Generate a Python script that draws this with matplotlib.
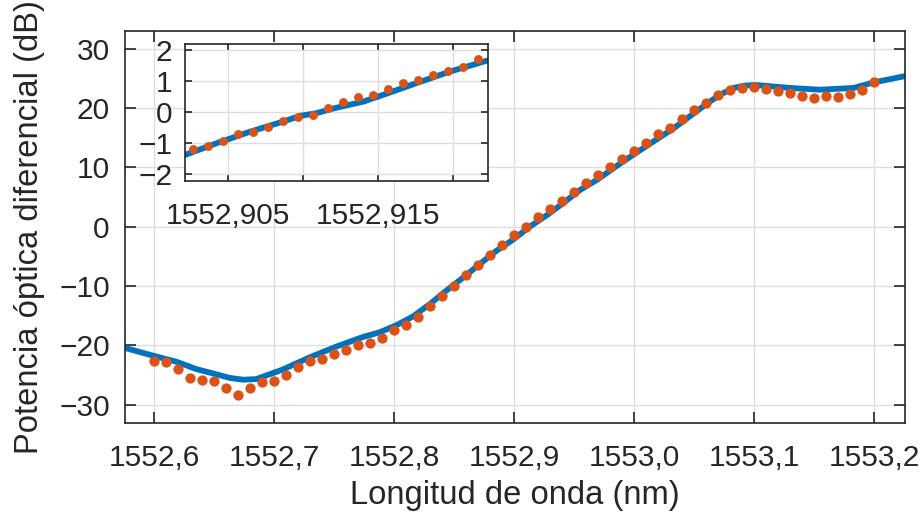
import numpy as np
import matplotlib
matplotlib.use("Agg")
from matplotlib import pyplot as plt
from matplotlib.ticker import FixedLocator, FixedFormatter

plt.rcParams['font.family'] = ['Liberation Sans', 'DejaVu Sans']
plt.rcParams['font.size'] = 21.5

azul = '#0072BD'
naranja = '#D95319'
gris = '#262626'

# curva simulada (nm, dB)
lam_sim = [1552.575, 1552.591, 1552.602, 1552.619, 1552.635, 1552.652, 1552.663,
           1552.674, 1552.685, 1552.696, 1552.707, 1552.719, 1552.730, 1552.752,
           1552.774, 1552.788, 1552.802, 1552.816, 1552.830, 1552.844, 1552.858,
           1552.872, 1552.885, 1552.899, 1552.913, 1552.927, 1552.941, 1552.955,
           1552.969, 1552.988, 1553.005, 1553.033, 1553.061, 1553.072, 1553.083,
           1553.092, 1553.101, 1553.130, 1553.155, 1553.183, 1553.199, 1553.226]
p_sim = [-20.4, -21.3, -21.9, -22.8, -24.0, -24.9, -25.5, -25.8, -25.7, -24.9,
         -24.1, -23.0, -22.0, -20.2, -18.6, -17.8, -16.6, -15.1, -13.0, -10.7,
         -8.5, -6.2, -4.1, -2.2, 0.0, 1.9, 4.0, 6.2, 7.9, 10.6,
         12.9, 16.6, 20.8, 22.3, 23.4, 23.8, 23.9, 23.4, 23.1, 23.4, 24.3, 25.4]

# medidas, paso de 0,01 nm
lam_med = 1552.60 + 0.01 * np.arange(61)
p_med = [-22.7, -22.8, -24.0, -25.5, -25.8, -26.1, -27.2, -28.4, -27.2, -26.2,
         -26.1, -25.0, -23.7, -22.6, -22.3, -21.5, -20.8, -20.0, -19.6, -18.7,
         -17.5, -16.6, -15.2, -13.4, -11.7, -10.0, -8.1, -6.4, -4.8, -3.1,
         -1.4, 0.0, 1.6, 3.0, 4.3, 5.8, 7.3, 8.7, 10.1, 11.4,
         12.8, 14.1, 15.6, 16.6, 18.2, 19.7, 20.8, 22.2, 23.0, 23.4,
         23.6, 23.2, 22.9, 22.6, 22.0, 21.7, 22.1, 21.9, 22.4, 23.1,
         24.4]

# detalle alrededor de 1552,91 nm
lam_sim_z = [1552.90215, 1552.90427, 1552.90649, 1552.90871, 1552.90982, 1552.91093,
             1552.91204, 1552.91404, 1552.91537, 1552.91760, 1552.91982, 1552.92227]
p_sim_z = [-1.39, -1.01, -0.64, -0.31, -0.13, -0.04, 0.11, 0.33, 0.55, 0.93, 1.30, 1.65]

lam_med_z = 1552.9027 + 0.001 * np.arange(20)
p_med_z = [-1.19, -1.09, -0.94, -0.72, -0.64, -0.48, -0.29, -0.18, -0.11, 0.13,
           0.33, 0.48, 0.56, 0.75, 0.93, 1.03, 1.20, 1.33, 1.46, 1.71]

xt = [1552.6, 1552.7, 1552.8, 1552.9, 1553.0, 1553.1, 1553.2]
xt_lab = ['1552,6', '1552,7', '1552,8', '1552,9', '1553,0', '1553,1', '1553,2']
yt = [-30, -20, -10, 0, 10, 20, 30]
xt_z = [1552.905, 1552.910, 1552.915, 1552.920]
xt_z_lab = ['1552,905', '', '1552,915', '']
yt_z = [-2, -1, 0, 1, 2]


def estilo(ax, largo, pad_x, pad_y):
    ax.grid(True, color='#dedede', lw=1.0)
    ax.set_axisbelow(True)
    for s in ax.spines.values():
        s.set_color(gris)
        s.set_linewidth(1.2)
    ax.tick_params(direction='in', length=largo, width=1.2, color=gris,
                   labelcolor=gris, top=True, right=True)
    ax.tick_params(axis='x', pad=pad_x)
    ax.tick_params(axis='y', pad=pad_y)


fig = plt.figure(figsize=(9.24, 5.21), dpi=100)
ax = fig.add_axes([0.1353, 0.1881, 0.8442, 0.7524])
ax.plot(lam_sim, p_sim, '-', color=azul, lw=4.2,
        solid_capstyle='round', solid_joinstyle='round')
ax.plot(lam_med, p_med, 'o', color=naranja, ms=7.4, mec='none')
ax.set_xlim(1552.5757, 1553.2258)
ax.set_ylim(-33.1, 33.0)
ax.xaxis.set_major_locator(FixedLocator(xt))
ax.xaxis.set_major_formatter(FixedFormatter(xt_lab))
ax.set_yticks(yt)
estilo(ax, 8, 15, 11)
ax.set_xlabel('Longitud de onda (nm)', color=gris, fontsize=23.6, labelpad=6)
ax.set_ylabel('Potencia óptica diferencial (dB)', color=gris, fontsize=23.6)
ax.yaxis.set_label_coords(-0.103, 0.5)

axz = fig.add_axes([0.2002, 0.6526, 0.3279, 0.2630])
axz.plot(lam_sim_z, p_sim_z, '-', color=azul, lw=4.2,
         solid_capstyle='round', solid_joinstyle='round')
axz.plot(lam_med_z, p_med_z, 'o', color=naranja, ms=6.4, mec='none')
axz.set_xlim(1552.90215, 1552.92235)
axz.set_ylim(-2.23, 2.19)
axz.xaxis.set_major_locator(FixedLocator(xt_z))
axz.xaxis.set_major_formatter(FixedFormatter(xt_z_lab))
axz.set_yticks(yt_z)
estilo(axz, 5, 15, 9)

fig.savefig('out.png', dpi=100)
